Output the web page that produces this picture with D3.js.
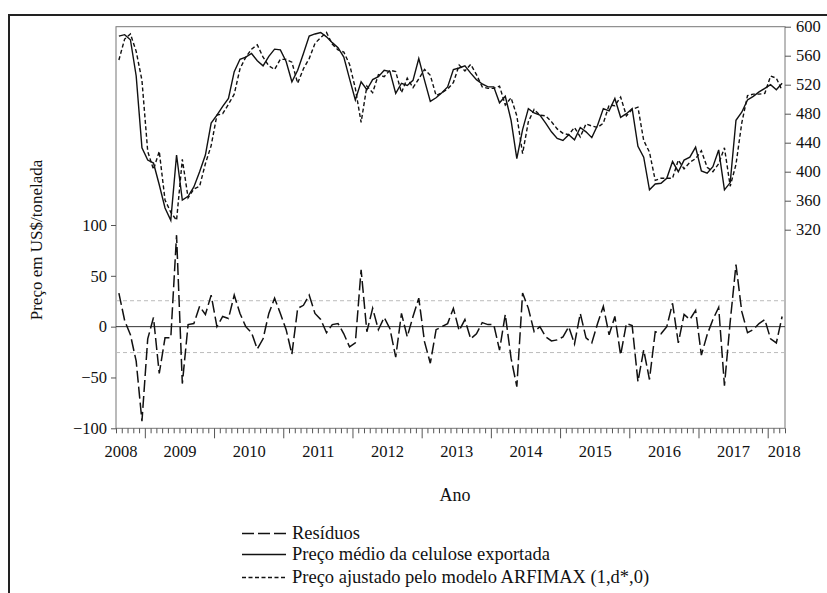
<!DOCTYPE html>
<html>
<head>
<meta charset="utf-8">
<script src="https://cdn.jsdelivr.net/npm/d3@7/dist/d3.min.js"></script>
<style>
  html, body { margin: 0; padding: 0; background: #fff; }
  svg { display: block; }
  text { font-family: "Liberation Serif", "Times New Roman", Times, serif; fill: #111; }
</style>
</head>
<body>
<svg id="chart" width="827" height="593"></svg>
<script>
// Monthly series, Aug 2008 – Mar 2018 (116 observations)
const precoMedio = [
  587, 589, 582, 532, 433, 416, 412, 382, 350, 333, 423, 361,
  366, 379, 400, 423, 467, 478, 490, 501, 538, 555, 558, 563,
  553, 546, 559, 569, 568, 552, 524, 540, 563, 587, 590, 592,
  586, 578, 571, 558, 528, 499, 524, 513, 527, 531, 540, 538,
  508, 522, 519, 526, 556, 526, 497, 502, 509, 517, 541, 543,
  546, 536, 527, 521, 517, 517, 495, 504, 471, 418, 458, 487,
  481, 478, 467, 455, 446, 443, 451, 444, 461, 455, 447, 464,
  487, 484, 501, 475, 480, 487, 435, 420, 375, 383, 384, 391,
  414, 400, 416, 420, 434, 401, 398, 407, 430, 375, 385, 471,
  482, 499, 504, 510, 515, 520, 513, 522
];

const precoAjustado = [
  554, 583, 590, 566, 526, 428, 403, 428, 361, 344, 333, 417,
  364, 376, 380, 411, 436, 478, 480, 493, 507, 542, 558, 569,
  575, 558, 546, 541, 555, 555, 551, 522, 542, 556, 577, 585,
  592, 576, 568, 565, 548, 515, 468, 518, 509, 534, 531, 540,
  538, 509, 529, 516, 528, 541, 533, 505, 509, 514, 523, 547,
  539, 548, 534, 517, 515, 515, 518, 492, 502, 477, 425, 469,
  486, 478, 477, 469, 459, 453, 451, 461, 448, 466, 463, 461,
  467, 492, 491, 503, 477, 486, 489, 443, 427, 388, 391, 391,
  391, 416, 404, 413, 418, 429, 406, 400, 411, 433, 380, 410,
  467, 505, 507, 507, 508, 532, 529, 512
];

const residuos = [
   33,   6,  -8, -34, -93, -12,   9, -46, -11, -11,  90, -56,
    2,   3,  20,  12,  31,   0,  10,   8,  31,  13,   0,  -6,
  -22, -12,  13,  28,  13,  -3, -27,  18,  21,  31,  13,   7,
   -6,   2,   3,  -7, -20, -16,  56,  -5,  18,  -3,   9,  -2,
  -30,  13, -10,  10,  28, -15, -36,  -3,   0,   3,  18,  -4,
    7, -12,  -7,   4,   2,   2, -23,  12, -31, -59,  33,  18,
   -5,   0, -10, -14, -13, -10,   0, -17,  13, -11, -16,   3,
   20,  -8,  10, -28,   3,   1, -54, -23, -52,  -5,  -7,   0,
   23, -16,  12,   7,  16, -28,  -8,   7,  19, -58,   5,  61,
   15,  -6,  -3,   3,   7, -12, -16,  10
];

const anos = ["2008", "2009", "2010", "2011", "2012", "2013", "2014", "2015", "2016", "2017", "2018"];
const ticksPreco = [320, 360, 400, 440, 480, 520, 560, 600];
const ticksResiduo = [-100, -50, 0, 50, 100];
const bandaResiduo = 25.5;   // ± reference band around zero

const legenda = [
  "Resíduos",
  "Preço médio da celulose exportada",
  "Preço ajustado pelo modelo ARFIMAX (1,d*,0)"
];

const svg = d3.select("#chart");
const W = 827, H = 593;
const pLeft = 116, pRight = 785, pTop = 26.7, pBottom = 428.3;
const FONT = "Liberation Serif";

// frame around the figure
svg.append("line").attr("x1", 9).attr("x2", W).attr("y1", 15).attr("y2", 15)
  .attr("stroke", "#222").attr("stroke-width", 2);
svg.append("line").attr("x1", 9).attr("x2", 9).attr("y1", 14).attr("y2", H)
  .attr("stroke", "#222").attr("stroke-width", 2);

const n = precoMedio.length;
const x = d3.scaleLinear().domain([-0.5, n - 0.5]).range([pLeft, pRight]);
const yPreco = d3.scaleLinear().domain([320, 600]).range([229.7, pTop]);
const yRes = d3.scaleLinear().domain([-100, 100]).range([pBottom, 225]);

// plot box
svg.append("rect").attr("x", pLeft).attr("y", pTop)
  .attr("width", pRight - pLeft).attr("height", pBottom - pTop)
  .attr("fill", "none").attr("stroke", "#777").attr("stroke-width", 1);

// residual reference lines
[bandaResiduo, -bandaResiduo].forEach(v => {
  svg.append("line").attr("x1", pLeft).attr("x2", pRight)
    .attr("y1", yRes(v)).attr("y2", yRes(v))
    .attr("stroke", "#bbb").attr("stroke-width", 1).attr("stroke-dasharray", "4,3");
});
svg.append("line").attr("x1", pLeft).attr("x2", pRight)
  .attr("y1", yRes(0)).attr("y2", yRes(0))
  .attr("stroke", "#333").attr("stroke-width", 1);

// x axis: monthly minor ticks, yearly major ticks (first January at index 5)
const fronteiras = d3.range(0, n + 1).map(k => k - 0.5);
const maiores = fronteiras.filter(b => (b + 0.5 - 5) % 12 === 0);
const menores = fronteiras.filter(b => (b + 0.5 - 5) % 12 !== 0);

const gxMin = svg.append("g").attr("transform", `translate(0,${pBottom})`)
  .call(d3.axisBottom(x).tickValues(menores).tickSize(5).tickFormat(""));
const gxMaj = svg.append("g").attr("transform", `translate(0,${pBottom})`)
  .call(d3.axisBottom(x).tickValues(maiores).tickSize(10).tickFormat(""));
[gxMin, gxMaj].forEach(g => {
  g.select(".domain").remove();
  g.selectAll("line").attr("stroke", "#555");
});

// year labels centred on each year's span; partial years at the ends
const posAno = anos.map((a, j) => {
  if (j === 0) return 0.3;
  if (j === anos.length - 1) return n - 0.7;
  return 5 + 12 * (j - 1) + 5.5;
});
const gxLab = svg.append("g").attr("transform", `translate(0,${pBottom})`)
  .attr("font-family", FONT)
  .call(d3.axisBottom(x).tickValues(posAno).tickSize(0).tickPadding(17)
    .tickFormat((d, j) => anos[j]));
gxLab.select(".domain").remove();
gxLab.selectAll("text").attr("font-size", 16.5).attr("font-family", FONT);

// left axis: residuals
const gyL = svg.append("g").attr("transform", `translate(${pLeft},0)`)
  .call(d3.axisLeft(yRes).tickValues(ticksResiduo).tickSize(5).tickPadding(4));
gyL.attr("font-family", FONT);
gyL.select(".domain").remove();
gyL.selectAll("line").attr("stroke", "#555");
gyL.selectAll("text").attr("font-size", 16.5).attr("font-family", FONT);

// right axis: price
const gyR = svg.append("g").attr("transform", `translate(${pRight},0)`)
  .call(d3.axisRight(yPreco).tickValues(ticksPreco).tickSize(6).tickPadding(5));
gyR.attr("font-family", FONT);
gyR.select(".domain").remove();
gyR.selectAll("line").attr("stroke", "#555");
gyR.selectAll("text").attr("font-size", 16.5).attr("font-family", FONT);

// series
const linhaPreco = d3.line().x((d, i) => x(i)).y(d => yPreco(d));
const linhaRes = d3.line().x((d, i) => x(i)).y(d => yRes(d));

svg.append("path").datum(residuos).attr("d", linhaRes)
  .attr("fill", "none").attr("stroke", "#111").attr("stroke-width", 1.5)
  .attr("stroke-dasharray", "12,4");
svg.append("path").datum(precoAjustado).attr("d", linhaPreco)
  .attr("fill", "none").attr("stroke", "#111").attr("stroke-width", 1.4)
  .attr("stroke-dasharray", "4,2.5");
svg.append("path").datum(precoMedio).attr("d", linhaPreco)
  .attr("fill", "none").attr("stroke", "#111").attr("stroke-width", 1.4);

// axis titles
svg.append("text").attr("x", 455).attr("y", 501).attr("text-anchor", "middle")
  .attr("font-family", FONT).attr("font-size", 18).text("Ano");
svg.append("text").attr("transform", "translate(42,240) rotate(-90)")
  .attr("text-anchor", "middle").attr("font-family", FONT)
  .attr("font-size", 17).text("Preço em US$/tonelada");

// legend
const estilos = [
  { dash: "12,4", w: 1.5 },
  { dash: null, w: 1.4 },
  { dash: "4,2.5", w: 1.4 }
];
const baseLeg = [539, 560, 583];
legenda.forEach((t, j) => {
  const yy = baseLeg[j] - 5.5;
  const ln = svg.append("line").attr("x1", 242).attr("x2", 286)
    .attr("y1", yy).attr("y2", yy)
    .attr("stroke", "#111").attr("stroke-width", estilos[j].w);
  if (estilos[j].dash) ln.attr("stroke-dasharray", estilos[j].dash);
  svg.append("text").attr("x", 292).attr("y", baseLeg[j])
    .attr("font-family", FONT).attr("font-size", 18.5).text(t);
});
</script>
</body>
</html>
